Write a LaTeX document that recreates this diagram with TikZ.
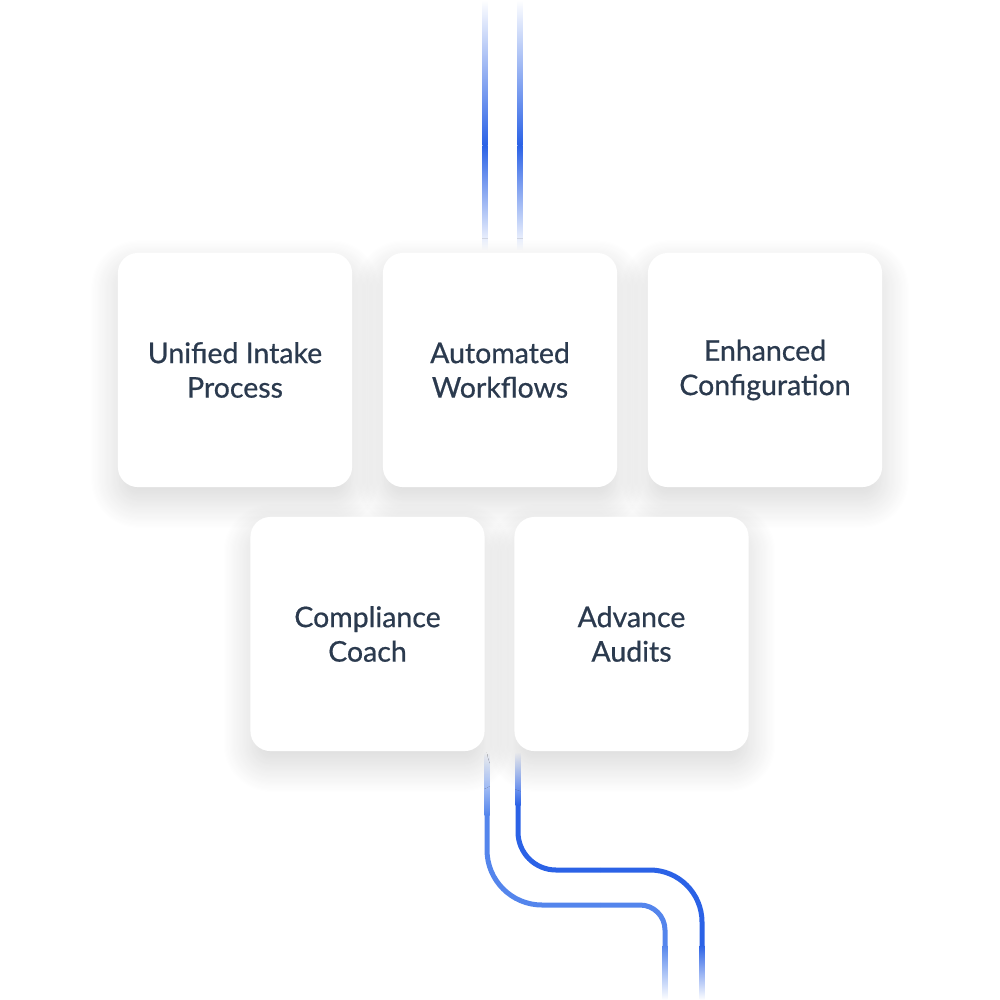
\documentclass[tikz,border=0pt]{standalone}
\usepackage{fontspec}
\setmainfont{Lato}[UprightFeatures={FakeBold=0.6}]
\usepackage{xcolor}
\usetikzlibrary{shadows.blur}
\definecolor{flowblue}{HTML}{2B62E6}
\definecolor{flowlight}{HTML}{5485EC}
\definecolor{inktext}{HTML}{2B3A4E}
\tikzset{
  card/.style={draw=none,fill=white,rounded corners=0.2cm,minimum width=2.34cm,minimum height=2.34cm,
    align=center,text=inktext,font=\fontsize{8.1}{9.8}\selectfont,
    blur shadow={shadow xshift=0pt,shadow yshift=-4pt,shadow blur radius=8pt,shadow blur steps=25,shadow opacity=16}},
  flow/.style={line width=0.05cm}
}

\begin{document}
\begin{tikzpicture}[x=0.01cm,y=-0.01cm]
    \useasboundingbox (0,0) rectangle (1000,1000);
    \foreach \lx in {485,520} {
      \shade[top color=white,bottom color=flowblue] (\lx-2.5,0) rectangle (\lx+2.5,145);
      \shade[top color=flowblue,bottom color=white] (\lx-2.5,145) rectangle (\lx+2.5,250);
    }
    \shade[top color=white,bottom color=flowlight] (484.5,752) rectangle (489.5,815);
    \shade[top color=white,bottom color=flowblue] (515.5,752) rectangle (520.5,805);
    \draw[flow,flowlight,rounded corners=0.55cm] (487,815) -- (487,905) -- (600,905);
    \draw[flow,flowlight,rounded corners=0.25cm] (600,905) -- (665,905) -- (665,945);
    \draw[flow,flowblue,rounded corners=0.38cm] (518,805) -- (518,870) -- (600,870);
    \draw[flow,flowblue,rounded corners=0.52cm] (600,870) -- (702,870) -- (702,945);
    \shade[top color=flowlight,bottom color=white] (662.5,945) rectangle (667.5,1000);
    \shade[top color=flowblue,bottom color=white] (699.5,945) rectangle (704.5,1000);
    \node[card] (unified) at (235,370) {Unified Intake\\Process};
    \node[card] (automated) at (500,370) {Automated\\Workflows};
    \node[card] (enhanced) at (765,370) {Enhanced\\Configuration};
    \node[card] (coach) at (367.5,634) {Compliance\\Coach};
    \node[card] (audits) at (631.5,634) {Advance\\Audits};
  \end{tikzpicture}
\end{document}
